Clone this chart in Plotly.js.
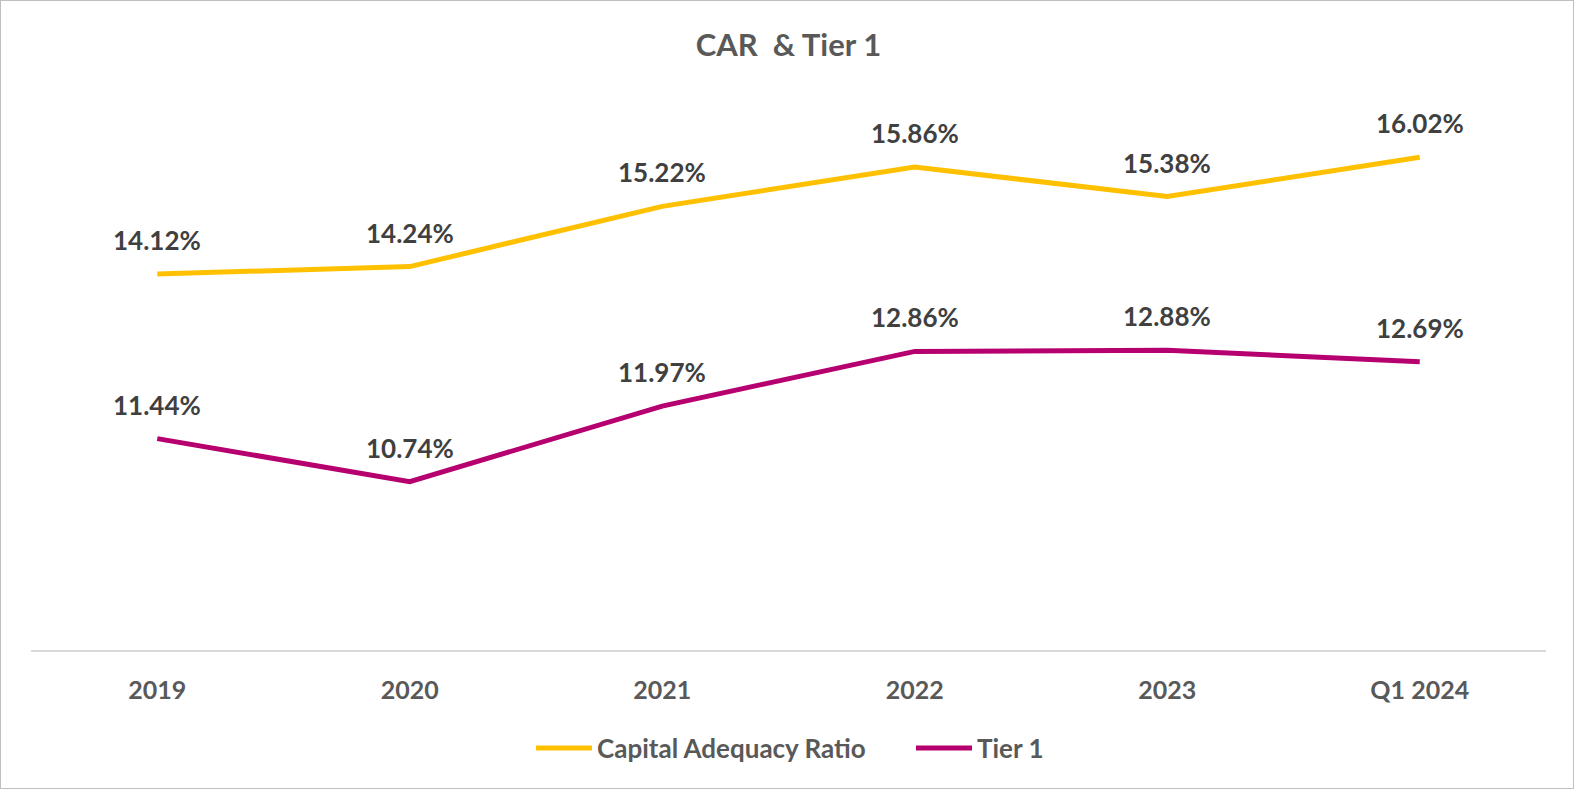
<!DOCTYPE html>
<html>
<head>
<meta charset="utf-8">
<script src="https://cdn.plot.ly/plotly-3.0.1.min.js"></script>
<style>
  html, body { margin: 0; padding: 0; background: #ffffff; }
  #wrap { position: relative; width: 1574px; height: 789px; }
  #chart { position: absolute; left: 0; top: 0; width: 1574px; height: 789px; }
  #frame { position: absolute; left: 0; top: 0; width: 1574px; height: 789px; box-sizing: border-box; border: 1.5px solid #bfbfbf; pointer-events: none; }
</style>
</head>
<body>
<div id="wrap"><div id="chart"></div><div id="frame"></div></div>
<script>
const categories = ['2019', '2020', '2021', '2022', '2023', 'Q1 2024'];
const carValues = [14.12, 14.24, 15.22, 15.86, 15.38, 16.02];
const tier1Values = [11.44, 10.74, 11.97, 12.86, 12.88, 12.69];
const seriesNames = ['Capital Adequacy Ratio', 'Tier 1'];
const chartTitle = 'CAR\u00A0 & Tier 1';

const FONT = 'Lato, "Open Sans", "Noto Sans", sans-serif';
const colors = ['#FFC000', '#B6006F'];

const traces = [carValues, tier1Values].map((vals, i) => ({
  type: 'scatter',
  mode: 'lines',
  x: categories,
  y: vals,
  name: seriesNames[i],
  line: { color: colors[i], width: 5 },
  hoverinfo: 'skip'
}));

const annotations = [];
[carValues, tier1Values].forEach(vals => {
  vals.forEach((v, j) => {
    annotations.push({
      x: j, y: v, xref: 'x', yref: 'y',
      text: v.toFixed(2) + '%',
      showarrow: false,
      yshift: 34,
      xanchor: 'center', yanchor: 'middle',
      font: { family: FONT, size: 26, color: '#404040', weight: 'bold' }
    });
  });
});

const layout = {
  width: 1574, height: 789,
  paper_bgcolor: '#ffffff', plot_bgcolor: '#ffffff',
  margin: { l: 31, r: 28, t: 97, b: 139 },
  title: {
    text: '<b>' + chartTitle + '</b>',
    x: 0.5, xref: 'paper', xanchor: 'center',
    y: 1 - 45 / 789, yref: 'container', yanchor: 'middle',
    font: { family: FONT, size: 31, color: '#595959' }
  },
  xaxis: {
    type: 'category',
    categoryarray: categories, categoryorder: 'array',
    range: [-0.5, categories.length - 0.5],
    autorange: false,
    showline: true, linecolor: '#D9D9D9', linewidth: 1.5,
    showgrid: false, zeroline: false, ticks: '',
    tickfont: { family: FONT, size: 25, color: '#595959', weight: 'bold' },
    ticklabelstandoff: 17,
    fixedrange: true
  },
  yaxis: {
    range: [8, 17], autorange: false,
    showgrid: false, zeroline: false, showline: false,
    showticklabels: false, ticks: '',
    fixedrange: true
  },
  showlegend: true,
  legend: {
    orientation: 'h',
    x: (557 - 31) / 1515, xanchor: 'left',
    y: (650 - 748) / 553, yanchor: 'middle',
    entrywidth: 335, entrywidthmode: 'pixels',
    bgcolor: 'rgba(0,0,0,0)',
    font: { family: FONT, size: 26, color: '#595959', weight: 'bold' },
    itemclick: false, itemdoubleclick: false,
    tracegroupgap: 0
  },
  annotations: annotations,
  hovermode: false
};

Plotly.newPlot('chart', traces, layout, { displayModeBar: false, staticPlot: true }).then(gd => {
  // let the legend swatches extend beyond the legend box, and lengthen them
  gd.querySelectorAll('.legend [clip-path]').forEach(el => el.removeAttribute('clip-path'));
  gd.querySelectorAll('.legend .legendlines path').forEach(p => {
    p.setAttribute('d', 'M-21,0h56');
  });
});
</script>
</body>
</html>
